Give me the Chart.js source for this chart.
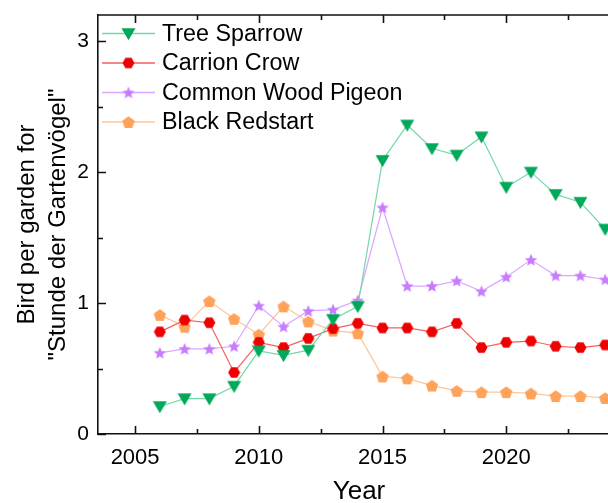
<!DOCTYPE html>
<html><head><meta charset="utf-8">
<script src="https://cdn.jsdelivr.net/npm/chart.js@4/dist/chart.umd.min.js"></script>
<style>html,body{margin:0;padding:0;overflow:hidden;background:#fff}#wrap{width:700px;height:503px}</style>
</head><body><div id="wrap"><canvas id="c" width="700" height="503"></canvas></div>
<script>
// Survey years and birds counted per garden
const years = [2006,2007,2008,2009,2010,2011,2012,2013,2014,2015,2016,2017,2018,2019,2020,2021,2022,2023,2024];
const treeSparrow   = [0.21,0.27,0.27,0.365,0.635,0.60,0.64,0.875,0.975,2.09,2.36,2.18,2.13,2.27,1.885,2.0,1.83,1.77,1.565];
const carrionCrow   = [0.78,0.87,0.85,0.47,0.70,0.66,0.73,0.805,0.845,0.81,0.81,0.78,0.845,0.66,0.70,0.71,0.67,0.66,0.68];
const woodPigeon    = [0.62,0.65,0.65,0.67,0.98,0.82,0.94,0.95,1.02,1.73,1.13,1.13,1.17,1.09,1.20,1.33,1.21,1.21,1.18];
const blackRedstart = [0.91,0.82,1.015,0.88,0.76,0.975,0.86,0.79,0.77,0.44,0.425,0.37,0.33,0.32,0.32,0.31,0.29,0.29,0.275];
const seriesNames = ['Tree Sparrow','Carrion Crow','Common Wood Pigeon','Black Redstart'];
const yearTicks = [2005,2010,2015,2020];
const yearMinorTicks = [2007.5,2012.5,2017.5,2022.5];
const valueTicks = [0,1,2,3];
const valueMinorTicks = [0.5,1.5,2.5];

const FONT = '"Liberation Sans", Arial, sans-serif';

// Filled marker glyphs rendered to small canvases
function marker(shape, color, size) {
  const c = document.createElement('canvas');
  c.width = size; c.height = size;
  const g = c.getContext('2d');
  const cx = size / 2, cy = size / 2, r = size / 2 - 0.5;
  g.fillStyle = color;
  g.beginPath();
  if (shape === 'triDown') {
    g.moveTo(cx - r, cy - r * 0.75);
    g.lineTo(cx + r, cy - r * 0.75);
    g.lineTo(cx, cy + r * 0.95);
  } else if (shape === 'hexagon') {
    for (let i = 0; i < 6; i++) {
      const a = Math.PI / 3 * i;
      g.lineTo(cx + r * Math.cos(a), cy + r * Math.sin(a));
    }
  } else if (shape === 'star') {
    for (let i = 0; i < 10; i++) {
      const a = -Math.PI / 2 + Math.PI / 5 * i;
      const rr = i % 2 === 0 ? r : r * 0.45;
      g.lineTo(cx + rr * Math.cos(a), cy + 0.6 + rr * Math.sin(a));
    }
  } else if (shape === 'pentagon') {
    for (let i = 0; i < 5; i++) {
      const a = -Math.PI / 2 + 2 * Math.PI / 5 * i;
      g.lineTo(cx + r * Math.cos(a), cy + 0.8 + r * Math.sin(a));
    }
  }
  g.closePath();
  g.fill();
  return c;
}

const styles = [
  {line: '#74d8a8', mark: marker('triDown', '#00a85a', 15)},
  {line: '#f26060', mark: marker('hexagon', '#ee0000', 13)},
  {line: '#dba6ff', mark: marker('star', '#c77cff', 14)},
  {line: '#ffc697', mark: marker('pentagon', '#ffa25a', 14)}
];
const seriesValues = [treeSparrow, carrionCrow, woodPigeon, blackRedstart];

const datasets = seriesNames.map((name, i) => ({
  label: name,
  data: years.map((y, k) => ({x: y, y: seriesValues[i][k]})),
  borderColor: styles[i].line,
  borderWidth: 1.2,
  pointStyle: styles[i].mark,
  pointRadius: 7,
  order: i
}));

// Frame line on top plus inward tick marks on bottom, top and left
const frameTicks = {
  id: 'frameTicks',
  afterDatasetsDraw(chart) {
    const {ctx, chartArea: a, scales: {x, y}} = chart;
    ctx.save();
    ctx.strokeStyle = '#111';
    ctx.lineWidth = 1.6;
    ctx.beginPath();
    ctx.moveTo(a.left, a.top); ctx.lineTo(a.right, a.top);
    const xt = (v, len) => {
      const px = Math.round(x.getPixelForValue(v)) + 0.5;
      ctx.moveTo(px, a.bottom); ctx.lineTo(px, a.bottom - len);
      ctx.moveTo(px, a.top); ctx.lineTo(px, a.top + len);
    };
    yearTicks.forEach(v => xt(v, 8));
    yearMinorTicks.forEach(v => xt(v, 5));
    const yt = (v, len) => {
      const py = Math.round(y.getPixelForValue(v)) + 0.5;
      ctx.moveTo(a.left, py); ctx.lineTo(a.left + len, py);
    };
    valueTicks.forEach(v => yt(v, 8));
    valueMinorTicks.forEach(v => yt(v, 5));
    ctx.stroke();
    ctx.restore();
  }
};

// Legend in the upper left of the plot: line, marker, name
const insideLegend = {
  id: 'insideLegend',
  afterDraw(chart) {
    const {ctx} = chart;
    ctx.save();
    ctx.font = '23.3px ' + FONT;
    ctx.textBaseline = 'middle';
    ctx.fillStyle = '#000';
    chart.data.datasets.forEach((ds, i) => {
      const yy = 33.5 + i * 29.5;
      ctx.strokeStyle = ds.borderColor;
      ctx.lineWidth = 1.5;
      ctx.beginPath();
      ctx.moveTo(102, yy); ctx.lineTo(155, yy);
      ctx.stroke();
      const m = ds.pointStyle;
      ctx.drawImage(m, 128.5 - m.width / 2, yy - m.height / 2);
      ctx.fillText(ds.label, 162, yy + 1);
    });
    ctx.restore();
  }
};

new Chart(document.getElementById('c'), {
  type: 'line',
  data: {datasets},
  options: {
    responsive: false,
    animation: false,
    events: [],
    layout: {padding: {top: 15, right: 80, left: 0, bottom: 0}},
    plugins: {legend: {display: false}, tooltip: {enabled: false}},
    scales: {
      x: {
        type: 'linear',
        min: 2003.5, max: 2024.6,
        grid: {display: false, drawTicks: false},
        border: {display: true, color: '#111', width: 1.6},
        afterBuildTicks: s => { s.ticks = yearTicks.map(v => ({value: v})); },
        ticks: {font: {size: 22, family: FONT}, color: '#000', padding: 11,
                callback: v => String(v), maxRotation: 0, autoSkip: false},
        title: {display: true, text: 'Year', color: '#000',
                font: {size: 26, family: FONT, lineHeight: 0.77}, padding: {top: 0, bottom: 1}},
        afterFit: s => { s.height = 69; s.paddingLeft = 0; s.paddingRight = 0; }
      },
      y: {
        min: 0, max: 3.2,
        grid: {display: false, drawTicks: false},
        border: {display: true, color: '#111', width: 1.6},
        afterBuildTicks: s => { s.ticks = valueTicks.map(v => ({value: v})); },
        ticks: {font: {size: 21, family: FONT}, color: '#000', padding: 9,
                callback: v => String(v)},
        title: {display: true, text: ['Bird per garden for', '"Stunde der Gartenvögel"'], color: '#000',
                font: {size: 24, family: FONT, lineHeight: 1.3}, padding: {top: 12, bottom: 0}},
        afterFit: s => { s.width = 98; s.paddingTop = 0; s.paddingBottom = 0; }
      }
    }
  },
  plugins: [frameTicks, insideLegend]
});
</script>
</body></html>
